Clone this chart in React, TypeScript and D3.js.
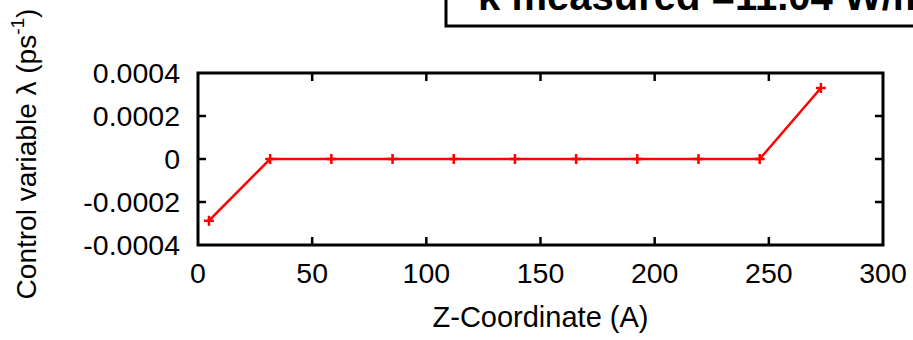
import React, { useEffect, useRef } from 'react';
import * as d3 from 'd3';

// Control variable lambda along the Z axis
const zCoords = [4.8, 31.6, 58.4, 85.2, 112, 138.8, 165.6, 192.4, 219.2, 246, 272.8];
const lambdaValues = [-0.000287, 0, 0, 0, 0, 0, 0, 0, 0, 0, 0.00033];
const xTicks = [0, 50, 100, 150, 200, 250, 300];
const yTicks = [-0.0004, -0.0002, 0, 0.0002, 0.0004];
const titleText = 'κ measured =11.04 W/mK';

export default function App() {
  const svgRef = useRef<SVGSVGElement | null>(null);

  useEffect(() => {
    const width = 913;
    const height = 340;
    const margin = { top: 73, right: 30, bottom: 95, left: 198 };
    const innerW = width - margin.left - margin.right;
    const innerH = height - margin.top - margin.bottom;
    const font = '"Liberation Sans", Arial, Helvetica, sans-serif';

    const svg = d3.select(svgRef.current).attr('width', width).attr('height', height);
    svg.selectAll('*').remove();

    const x = d3.scaleLinear().domain([0, 300]).range([0, innerW]);
    const y = d3.scaleLinear().domain([-0.0004, 0.0004]).range([innerH, 0]);

    // Title box (cut off by the page edge, as in the source figure)
    svg.append('rect').attr('x', 446).attr('y', -20).attr('width', 520).attr('height', 46)
      .attr('fill', '#fff').attr('stroke', '#000').attr('stroke-width', 3);
    svg.append('text').attr('x', 478).attr('y', 10)
      .attr('font-family', font).attr('font-size', 40).attr('font-weight', 'bold')
      .attr('fill', '#000').text(titleText);

    const g = svg.append('g').attr('transform', `translate(${margin.left},${margin.top})`);
    const tickLen = 8;

    // Ticks (mirrored, inward)
    xTicks.slice(1, -1).forEach(t => {
      g.append('line').attr('x1', x(t)).attr('x2', x(t)).attr('y1', innerH).attr('y2', innerH - tickLen)
        .attr('stroke', '#000').attr('stroke-width', 2.5);
      g.append('line').attr('x1', x(t)).attr('x2', x(t)).attr('y1', 0).attr('y2', tickLen)
        .attr('stroke', '#000').attr('stroke-width', 2.5);
    });
    yTicks.slice(1, -1).forEach(t => {
      g.append('line').attr('x1', 0).attr('x2', tickLen).attr('y1', y(t)).attr('y2', y(t))
        .attr('stroke', '#000').attr('stroke-width', 2.5);
      g.append('line').attr('x1', innerW).attr('x2', innerW - tickLen).attr('y1', y(t)).attr('y2', y(t))
        .attr('stroke', '#000').attr('stroke-width', 2.5);
    });

    // Tick labels
    g.selectAll('.xl').data(xTicks).join('text').attr('class', 'xl')
      .attr('x', d => x(d)).attr('y', innerH + 38).attr('text-anchor', 'middle')
      .attr('font-family', font).attr('font-size', 28.5).attr('fill', '#000')
      .text(d => String(d));
    g.selectAll('.yl').data(yTicks).join('text').attr('class', 'yl')
      .attr('x', -18).attr('y', d => y(d)).attr('dy', '0.36em').attr('text-anchor', 'end')
      .attr('font-family', font).attr('font-size', 28.5).attr('fill', '#000')
      .text(d => (d === 0 ? '0' : d.toFixed(4)));

    // Frame
    g.append('rect').attr('x', 0).attr('y', 0).attr('width', innerW).attr('height', innerH)
      .attr('fill', 'none').attr('stroke', '#000').attr('stroke-width', 3);

    // Data line
    const pts = zCoords.map((z, i) => [z, lambdaValues[i]] as [number, number]);
    const line = d3.line<[number, number]>().x(d => x(d[0])).y(d => y(d[1]));
    g.append('path').attr('d', line(pts)).attr('fill', 'none')
      .attr('stroke', '#ff0000').attr('stroke-width', 2.5);

    // "+" markers
    const m = 5;
    pts.forEach(d => {
      const px = x(d[0]);
      const py = y(d[1]);
      g.append('path').attr('d', `M${px - m},${py}H${px + m}M${px},${py - m}V${py + m}`)
        .attr('stroke', '#ff0000').attr('stroke-width', 2.5);
    });

    // Axis titles
    svg.append('text').attr('x', margin.left + innerW / 2).attr('y', 327).attr('text-anchor', 'middle')
      .attr('font-family', font).attr('font-size', 29).attr('fill', '#000')
      .text('Z-Coordinate (A)');

    const yl = svg.append('text').attr('transform', `translate(36,${154}) rotate(-90)`)
      .attr('text-anchor', 'middle').attr('font-family', font).attr('font-size', 28).attr('fill', '#000');
    yl.append('tspan').text('Control variable λ (ps');
    yl.append('tspan').attr('font-size', 19).attr('dy', -12).text('-1');
    yl.append('tspan').attr('dy', 12).text(')');
  }, []);

  return (
    <div style={{ position: 'absolute', left: 0, top: 0, width: 913, height: 340, overflow: 'hidden', background: '#fff' }}>
      <svg ref={svgRef} style={{ display: 'block' }} />
    </div>
  );
}
